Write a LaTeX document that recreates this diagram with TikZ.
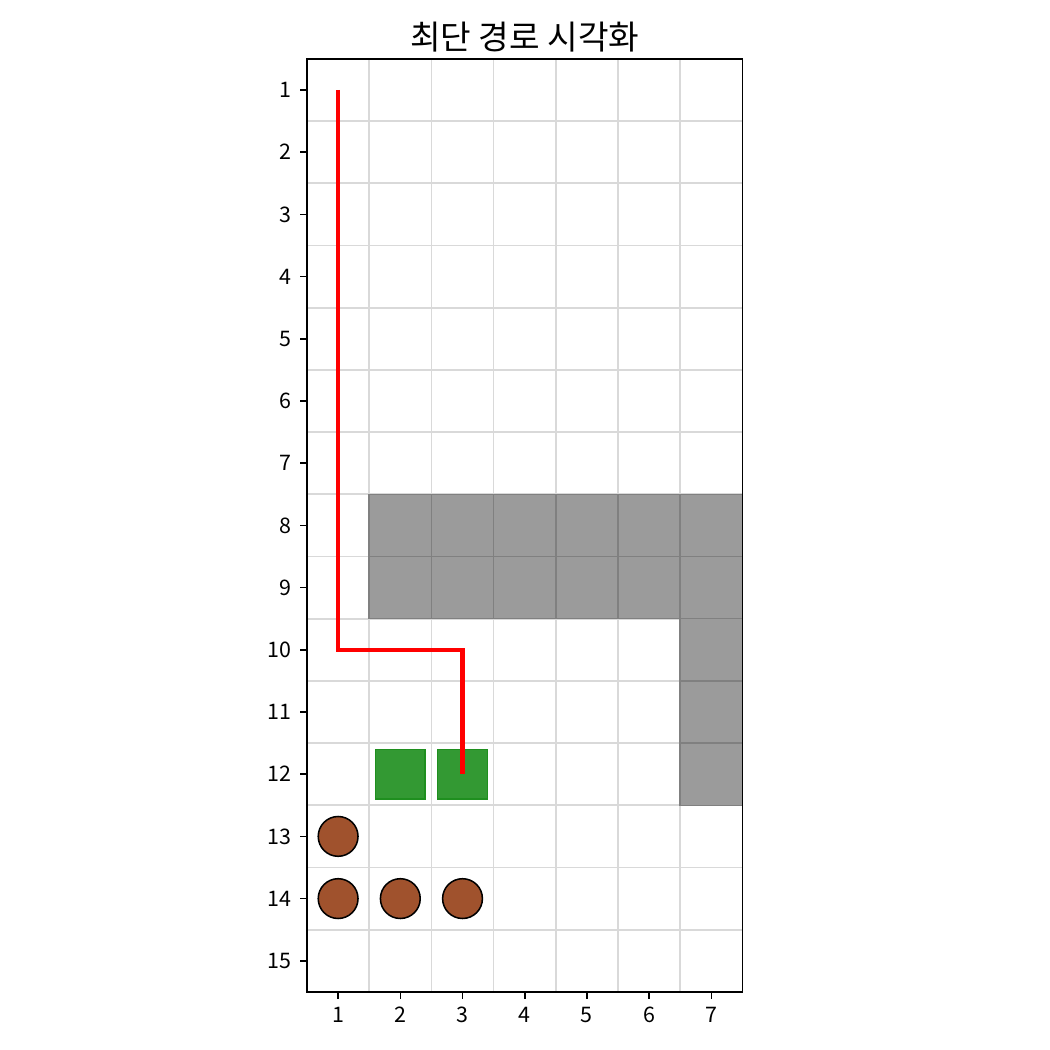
\documentclass[tikz,border=0pt]{standalone}
\usepackage{fontspec}
\setmainfont{Noto Sans CJK KR}
\definecolor{wallfill}{HTML}{9B9B9B}
\definecolor{wallline}{HTML}{808080}
\definecolor{goalfill}{HTML}{339933}
\definecolor{goalline}{HTML}{1F8F1F}
\definecolor{stonefill}{HTML}{A0522D}
\tikzset{
  gridline/.style={line width=0.75pt, color=gray!30},
  wall/.style={fill=wallfill, draw=wallline, line width=0.7pt},
  goal/.style={rectangle, fill=goalfill, draw=goalline, line width=0.7pt, minimum size=0.8cm, inner sep=0pt},
  stone/.style={circle, fill=stonefill, draw=black, line width=0.7pt, minimum size=0.64cm, inner sep=0pt},
  route/.style={red, line width=2pt},
  ticklabel/.style={inner sep=0pt, font=\fontsize{9.8}{11}\selectfont}
}
\begin{document}
\begin{tikzpicture}
\useasboundingbox (0,0) rectangle (16.881,16.881);

\begin{scope}[shift={(4.436,16.434)}, y=-1cm]

% grid
\foreach \c in {1.5,2.5,...,6.5}
  \draw[gridline] (\c,0.5) -- (\c,15.5);
\foreach \r in {1.5,2.5,...,14.5}
  \draw[gridline] (0.5,\r) -- (7.5,\r);

% walls
\foreach \c/\r in {2/8,3/8,4/8,5/8,6/8,7/8,2/9,3/9,4/9,5/9,6/9,7/9,7/10,7/11,7/12}
  \draw[wall] (\c-0.5,\r-0.5) rectangle +(1,1);

% goals and stones
\node[goal] (g2) at (2,12) {};
\node[goal] (g3) at (3,12) {};
\node[stone] (s1) at (1,13) {};
\node[stone] (s2) at (1,14) {};
\node[stone] (s3) at (2,14) {};
\node[stone] (s4) at (3,14) {};

% route
\coordinate (start) at (1,1);
\coordinate (turnA) at (1,10);
\coordinate (turnB) at (3,10);
\draw[route] (start) -- (turnA) -- (turnB) -- (g3.center);

% frame and ticks
\draw[line width=0.75pt] (0.5,0.5) rectangle (7.5,15.5);
\foreach \r in {1,...,15} {
  \draw[line width=0.75pt] (0.5,\r) -- (0.387,\r);
  \node[ticklabel, anchor=east] (yl\r) at (0.26,\r) {\r};
}
\foreach \c in {1,...,7} {
  \draw[line width=0.75pt] (\c,15.5) -- (\c,15.613);
  \node[ticklabel, anchor=north] (xl\c) at (\c,15.74) {\c};
}

\node[font=\fontsize{15.2}{17}\selectfont] (title) at (4,0.15) {최단 경로 시각화};
\end{scope}

\end{tikzpicture}
\end{document}
